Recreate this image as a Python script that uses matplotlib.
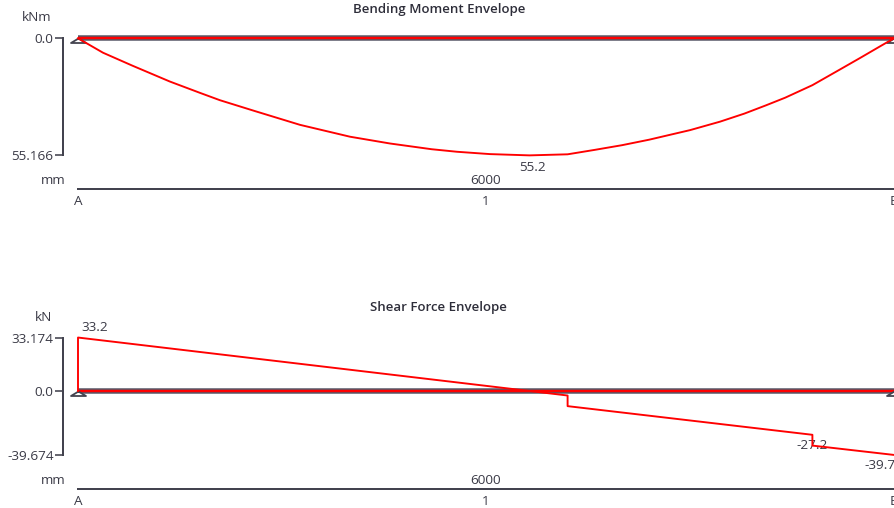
import matplotlib
matplotlib.use("Agg")
import matplotlib.pyplot as plt

plt.rcParams['font.family'] = ['Open Sans', 'DejaVu Sans']

# ---------------- data ----------------
span_length_mm = 6000
node_labels = ['A', '1', 'B']
node_pos_mm = [0, 3000, 6000]
support_pos_mm = [0, 6000]

moment_x_mm = [0, 184, 400, 676, 900, 1044, 1300, 1632, 2000, 2294, 2600,
               2787, 3029, 3320, 3600, 3800, 4000, 4200, 4353, 4500, 4721,
               4900, 5059, 5200, 5400, 5600, 5750, 5900, 6000]
moment_kNm = [0, 6.8, 12.9, 20.4, 25.8, 29.2, 34.3, 40.8, 46.4, 49.6, 52.3,
              53.5, 54.6, 55.2, 54.7, 52.6, 50.4, 47.8, 45.5, 43.3, 39.3,
              35.5, 31.6, 28.0, 22.1, 14.8, 9.3, 3.7, 0]
moment_ticks = [0.0, 55.166]
moment_ticklabels = ['0.0', '55.166']
moment_max = (3320, 55.2)

shear_x_mm = [0, 0, 3600, 3600, 5400, 5400, 6000]
shear_kN = [0, 33.2, -2.8, -9.4, -27.2, -33.9, -39.7]
shear_ticks = [-39.674, 0.0, 33.174]
shear_ticklabels = ['-39.674', '0.0', '33.174']
shear_labels = [(0, 33.2), (5400, -27.2), (6000, -39.7)]

# ---------------- style ----------------
W, H = 894, 508
DPI = 100
RED = '#ff0000'
DARK = '#43434f'
BEAM = '#575766'
TXT = '#3a3a46'
PX = 72.0 / DPI  # points per pixel

fig = plt.figure(figsize=(W / DPI, H / DPI), dpi=DPI)

mm_per_px = span_length_mm / 816.0
xlim = (-78 * mm_per_px, (W - 78) * mm_per_px)
spine_x = (63 - 78) * mm_per_px


def setup(ax, ylim, ticks, ticklabels, spine_bounds, axis_y, unit, unit_off):
    ax.set_xlim(*xlim)
    ax.set_ylim(*ylim)
    ax.set_facecolor('none')
    for s in ['top', 'right']:
        ax.spines[s].set_visible(False)
    ax.spines['left'].set_position(('data', spine_x))
    ax.spines['left'].set_bounds(*spine_bounds)
    ax.spines['left'].set_color(DARK)
    ax.spines['left'].set_linewidth(2 * PX)
    ax.set_yticks(ticks)
    ax.set_yticklabels(ticklabels)
    ax.tick_params(axis='y', direction='out', length=8 * PX, width=1.6 * PX,
                   color=DARK, labelcolor=TXT, labelsize=9.7, pad=1)
    ax.spines['bottom'].set_position(('data', axis_y))
    ax.spines['bottom'].set_bounds(0, span_length_mm)
    ax.spines['bottom'].set_color(DARK)
    ax.spines['bottom'].set_linewidth(2 * PX)
    ax.set_xticks(node_pos_mm)
    ax.set_xticklabels(node_labels)
    ax.tick_params(axis='x', which='major', length=0, pad=4, labelsize=9.7,
                   labelcolor=TXT)
    ax.set_xticks([0], minor=True)
    ax.tick_params(axis='x', which='minor', direction='in', length=14 * PX,
                   width=1.6 * PX, color=DARK)
    # dimension text
    ax.annotate(f'{span_length_mm}', xy=(span_length_mm / 2, axis_y),
                xytext=(0, 8), textcoords='offset pixels', ha='center',
                va='center', fontsize=9.7, color=TXT)
    ax.annotate('mm', xy=(0, axis_y), xytext=(-12, 8), textcoords='offset pixels',
                ha='right', va='center', fontsize=9.7, color=TXT)
    # unit label
    top_val = spine_bounds[1] if ylim[0] < ylim[1] else spine_bounds[0]
    ax.annotate(unit, xy=(spine_x, top_val), xytext=unit_off,
                textcoords='offset pixels', ha='center', va='center',
                fontsize=9.7, color=TXT)
    # beam line
    ax.plot([0, span_length_mm], [0, 0], color=BEAM, lw=5.5 * PX,
            solid_capstyle='butt', zorder=2)
    ax.plot([0, span_length_mm], [0, 0], color=RED, lw=2.4 * PX,
            solid_capstyle='butt', zorder=3)
    tri = [(0, 0), (-1, -0.6), (1, -0.6), (0, 0)]
    ax.plot(support_pos_mm, [0] * len(support_pos_mm), linestyle='none',
            marker=tri, markersize=15 * PX, markerfacecolor='white',
            markeredgecolor=DARK, markeredgewidth=1.8 * PX, zorder=4)


# ---------------- bending moment ----------------
ax1 = fig.add_axes([0, 0.5, 1, 0.5])
k1 = 55.166 / (155.3 - 38.3)
setup(ax1, ((254 - 38.3) * k1, (0 - 38.3) * k1), moment_ticks, moment_ticklabels,
      (0, 55.166), (189 - 38.3) * k1, 'kNm', (-26, 21))
ax1.plot(moment_x_mm, moment_kNm, color=RED, lw=1.9 * PX, zorder=5)
ax1.annotate(f'{moment_max[1]:.1f}', xy=moment_max, xytext=(3, -12),
             textcoords='offset pixels', ha='center', va='center',
             fontsize=9.7, color=TXT)
fig.text(439 / W, 1 - 9 / H, 'Bending Moment Envelope', ha='center', va='center',
         fontsize=9.5, fontweight='semibold', color='#2e2e3a')

# ---------------- shear force ----------------
ax2 = fig.add_axes([0, 0, 1, 0.5])
k2 = 0.621
setup(ax2, (-(508 - 391) * k2, (391 - 254) * k2), shear_ticks, shear_ticklabels,
      (-39.674, 33.174), -(489 - 391) * k2, 'kN', (-19, 20))
ax2.plot(shear_x_mm, shear_kN, color=RED, lw=1.9 * PX, zorder=5)
offsets = [(17, 10), (0, -11), (-14, -11)]
for (x, v), off in zip(shear_labels, offsets):
    ax2.annotate(f'{v:.1f}', xy=(x, v), xytext=off, textcoords='offset pixels',
                 ha='center', va='center', fontsize=9.7, color=TXT)
fig.text(438 / W, 1 - 307 / H, 'Shear Force Envelope', ha='center', va='center',
         fontsize=9.5, fontweight='semibold', color='#2e2e3a')

fig.savefig('out.png', dpi=DPI)
